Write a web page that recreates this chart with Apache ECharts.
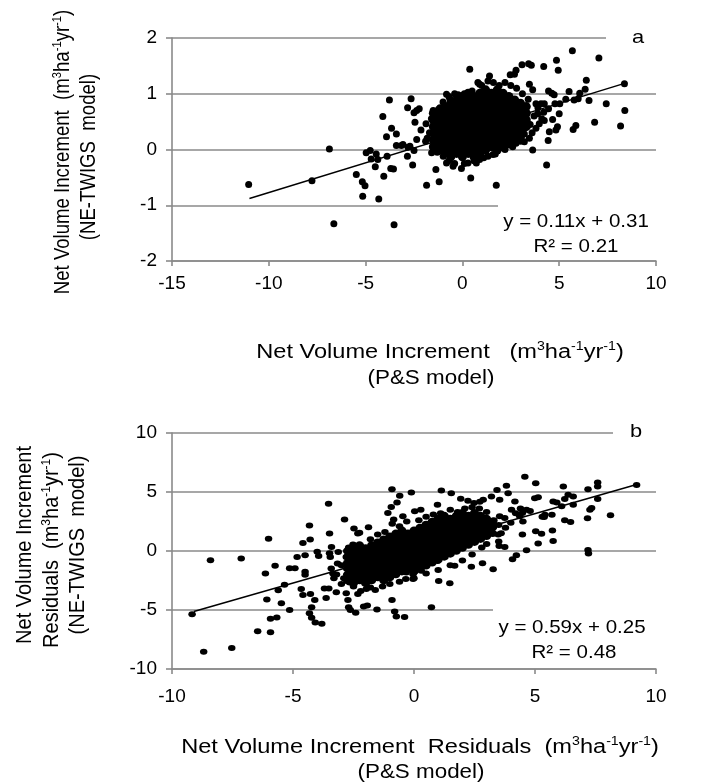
<!DOCTYPE html>
<html><head><meta charset="utf-8">
<script src="https://cdn.jsdelivr.net/npm/echarts@6/dist/echarts.min.js"></script>
<style>html,body{margin:0;padding:0;background:#fff}#c{width:727px;height:784px}</style>
</head><body><div id="c"></div>
<script>
// ---------- Panel a data ----------
const aXTicks = [-15, -10, -5, 0, 5, 10];
const aYTicks = [-2, -1, 0, 1, 2];
const aOutliers = [
 [-11.04,-0.63],[-7.77,-0.56],[-6.87,0.01],[-6.64,-1.33],[-3.53,-1.35],[-3.77,0.89],[-4.11,0.59],[-3.66,0.38],
 [-3.92,0.23],[-3.41,0.28],[-3.89,-0.12],[-4.06,-0.48],[-4.32,-0.89],[-5.15,-0.84],[-5.03,-0.65],[-5.17,-0.58],
 [-5.48,-0.45],[-4.97,-0.06],[-4.76,-0.02],[-4.71,-0.17],[-4.45,-0.08],[-4.37,-0.18],[-4.50,-0.31],[-3.70,-0.34],
 [-3.56,-0.35],[-3.41,0.07],[-3.15,0.07],[-3.07,0.09],[-2.81,0.04],[-2.71,0.06],[-2.84,-0.12],[-2.57,-0.28],
 [-2.65,0.91],[-2.83,0.75],[-2.50,0.66],[-2.36,0.70],[-2.23,0.73],[-2.45,0.49],[-2.50,-0.02],[-2.36,0.18],
 [-2.14,0.35],[-1.88,0.46],[-1.82,0.20],[-1.85,-0.64],[-1.37,-0.36],[-1.20,-0.58],[-1.59,-0.06],[-1.51,0.04],
 [-1.51,0.70],[-1.37,0.64],[-1.16,0.75],[-0.99,-0.12],[-0.82,-0.24],[-0.48,-0.30],[-0.05,-0.34],[0.43,-0.51],
 [0.38,1.44],[1.75,-0.64],[4.35,-0.28],[3.63,-0.01],[3.46,0.20],[3.20,0.14],[3.80,0.38],[3.97,0.46],
 [4.23,0.52],[4.49,0.32],[4.43,0.16],[4.83,0.35],[4.91,0.41],[4.66,0.54],[5.00,0.64],[5.03,0.82],
 [4.78,0.82],[4.45,0.73],[4.06,0.82],[3.80,0.82],[3.63,1.07],[3.46,1.17],[3.42,1.54],[3.56,1.51],
 [3.08,1.52],[2.77,1.42],[2.69,1.35],[2.47,1.34],[4.20,1.49],[4.86,1.60],[4.95,1.42],[5.68,1.77],
 [7.05,1.64],[5.98,0.91],[5.77,0.89],[5.51,1.04],[5.34,0.90],[5.72,0.36],[5.86,0.43],[6.40,1.24],
 [6.34,1.08],[6.06,1.01],[6.54,0.88],[6.83,0.49],[7.43,0.82],[8.17,0.42],[8.39,0.70],[8.37,1.18],
 [4.45,1.05],[4.62,1.01],[4.74,0.98],[4.23,0.82],[3.89,0.64],[4.20,0.67],[3.29,0.52],[3.12,0.35],
 [2.94,0.29],[2.77,0.11],[2.43,0.08],[1.92,0.05],[1.58,-0.09],[1.32,-0.12],[0.89,-0.18],[0.72,-0.24],
 [0.29,-0.24],[1.40,1.32],[1.32,1.23],[0.89,1.17],[0.80,1.20],[-0.82,0.99],[-0.22,0.98],[-0.65,0.91],
 [-1.6,0.55],[-1.4,0.68],[-1.7,0.3],[-1.9,0.15],[-1.3,-0.05],[-0.7,-0.2],[-0.4,-0.25],[0.1,-0.25],
 [0.6,-0.2],[1.1,-0.15],[1.7,-0.08],[2.2,0.0],[2.6,0.05],[3.0,0.15],[3.2,0.28],[3.5,0.45],
 [3.4,0.9],[3.1,1.0],[2.8,1.1],[2.5,1.15],[2.2,1.2],[1.9,1.15],[1.6,1.2],[1.0,1.15],
 [0.5,1.05],[0.1,1.0],[-0.4,1.0],[-0.7,0.95],[-1.0,0.85],[3.7,0.6],[3.9,0.75],[4.1,0.55],[3.6,0.3]
];
// dense cluster: [x, [y values]] columns
const aCoreCols = [
 [-1.5, [0.05,0.17,0.29,0.41,0.53,0.65]],
 [-1.2, [-0.01,0.11,0.23,0.35,0.47,0.59,0.71]],
 [-0.9, [-0.07,0.05,0.17,0.29,0.41,0.53,0.65,0.77]],
 [-0.6, [-0.13,-0.01,0.11,0.23,0.35,0.47,0.59,0.71,0.83]],
 [-0.3, [-0.07,0.05,0.17,0.29,0.41,0.53,0.65,0.77,0.89]],
 [0.0,  [-0.13,-0.01,0.11,0.23,0.35,0.47,0.59,0.71,0.83,0.95]],
 [0.3,  [-0.07,0.05,0.17,0.29,0.41,0.53,0.65,0.77,0.89,1.01]],
 [0.6,  [-0.13,-0.01,0.11,0.23,0.35,0.47,0.59,0.71,0.83,0.95]],
 [0.9,  [-0.07,0.05,0.17,0.29,0.41,0.53,0.65,0.77,0.89,1.01]],
 [1.2,  [-0.01,0.11,0.23,0.35,0.47,0.59,0.71,0.83,0.95,1.07]],
 [1.5,  [0.05,0.17,0.29,0.41,0.53,0.65,0.77,0.89,1.01]],
 [1.8,  [-0.01,0.11,0.23,0.35,0.47,0.59,0.71,0.83,0.95,1.07]],
 [2.1,  [0.05,0.17,0.29,0.41,0.53,0.65,0.77,0.89,1.01]],
 [2.4,  [0.11,0.23,0.35,0.47,0.59,0.71,0.83,0.95]],
 [2.7,  [0.17,0.29,0.41,0.53,0.65,0.77,0.89]],
 [3.0,  [0.23,0.35,0.47,0.59,0.71,0.83]],
 [3.3,  [0.41,0.53,0.65,0.77]]
];
const aTrend = [[-11.0, -0.88], [8.5, 1.2]];

// ---------- Panel b data ----------
const bXTicks = [-10, -5, 0, 5, 10];
const bYTicks = [-10, -5, 0, 5, 10];
const bOutliers = [
 [-9.17,-5.35],[-8.69,-8.54],[-8.41,-0.78],[-7.53,-8.21],[-7.14,-0.64],[-6.46,-6.81],[-5.93,-6.89],[-6.01,1.04],
 [-6.14,-1.9],[-6.08,-4.12],[-5.93,-5.74],[-5.67,-5.63],[-5.74,-1.26],[-5.61,-3.33],[-5.48,-4.43],[-5.35,-2.86],
 [-5.14,-4.99],[-5.14,-1.46],[-4.92,-1.46],[-4.83,-0.50],[-4.59,0.67],[-4.50,-0.36],[-4.50,-1.76],[-4.50,-2.02],
 [-4.66,-3.22],[-4.59,-3.73],[-4.32,2.16],[-4.29,0.98],[-4.28,-3.64],[-4.23,-4.76],[-4.32,-5.27],[-4.23,-5.66],
 [-4.10,-4.15],[-4.08,-6.05],[-4.00,-0.06],[-3.94,-0.42],[-3.81,-6.16],[-3.53,4.0],[-3.49,1.48],[-3.41,0.34],
 [-3.49,-0.2],[-3.46,-0.5],[-3.70,-3.17],[-3.63,-3.98],[-3.52,-3.17],[-3.42,-1.48],[-3.35,-1.9],[-3.31,-2.30],
 [-3.21,-3.50],[-3.16,-1.06],[-3.13,-0.08],[-2.87,2.66],[-2.80,-3.59],[-2.72,-2.10],[-2.66,-2.66],[-2.73,-4.15],
 [-2.70,-4.76],[-2.63,-4.99],[-2.41,-5.24],[-2.32,-3.64],[-2.52,0.56],[-2.48,1.90],[-2.32,1.48],[-2.25,1.54],
 [-2.08,-4.71],[-1.97,-3.22],[-1.88,2.02],[-1.93,-4.62],[-1.53,-4.96],[-0.91,5.24],[-0.91,-4.15],[-0.80,-5.13],
 [-0.73,-5.55],[-0.39,-5.60],[-0.11,4.96],[-0.59,4.68],[-0.70,4.12],[-0.94,3.72],[-1.08,3.22],[-0.84,2.66],
 [-0.46,2.94],[0.03,3.36],[0.28,3.50],[0.97,3.92],[1.13,5.13],[1.54,4.90],[1.93,4.43],[2.23,4.26],
 [2.48,4.06],[2.72,4.17],[2.86,4.34],[3.20,4.62],[3.43,5.18],[3.54,4.34],[3.82,5.52],[3.89,4.90],
 [3.78,1.96],[3.52,0.42],[3.75,0.34],[4.07,-0.70],[4.23,-0.36],[4.58,6.30],[5.03,5.74],[4.99,4.48],
 [5.13,4.56],[4.65,3.50],[4.48,1.40],[4.65,0.06],[5.03,1.68],[5.27,1.46],[5.13,0.64],[5.75,0.84],
 [5.72,1.74],[5.38,2.89],[5.70,3.08],[5.75,4.20],[6.17,5.46],[6.23,4.40],[6.37,4.76],[6.58,4.62],
 [6.58,3.92],[6.23,2.61],[6.47,2.46],[7.19,5.24],[7.59,5.80],[7.59,5.46],[7.59,4.40],[7.34,3.64],
 [7.27,3.50],[7.17,2.77],[7.19,0.08],[7.21,-0.22],[8.12,3.03],[9.20,5.60],[5.41,3.08],[4.48,3.22],
 [4.37,2.94],[4.17,4.20],[4.03,3.50],[3.75,2.80],[3.54,2.94],[3.48,1.40],[3.27,-1.54],[2.83,-1.04],
 [2.37,-1.34],[1.48,-2.74],[1.02,-2.55],[0.72,-4.76],[1.68,-1.26],[-0.04,-1.96],[-0.32,-1.82],[-0.34,-2.38],
 [-0.04,-2.38],[0.30,-1.68],[0.44,-0.70],[0.97,-0.84],[1.34,-0.28],
 [-3.0,-1.2],[-2.9,-2.3],[-2.8,-0.5],[-3.2,-2.0],[-2.7,0.3],[-2.5,-3.0],[-3.0,-2.8],[-1.8,1.0],
 [-1.5,1.4],[-1.2,1.6],[-0.9,2.3],[-0.6,2.1],[-0.3,2.5],[0.2,2.6],[0.5,2.9],[0.8,3.1],
 [1.1,3.2],[1.5,3.5],[1.8,3.3],[2.1,3.6],[2.4,3.7],[2.7,3.6],[3.0,3.3],[3.3,2.6],
 [3.5,2.2],[3.6,1.5],[2.4,-0.3],[2.0,-0.8],[1.5,-1.2],[1.0,-1.6],[0.5,-1.9],[0.0,-2.3],
 [-0.6,-2.6],[-1.0,-2.8],[-1.3,-3.0],[-1.8,-3.1],[-2.2,-3.4],[-1.6,-3.3],[3.5,0.8],[3.0,0.6],
 [2.8,0.3],[4.2,3.2],[4.5,2.5],[4.0,2.4],[4.4,3.6],[4.8,3.4],[5.3,2.9],[5.9,4.1],[6.1,3.8]
];
const bCoreCols = [
 [-2.75, [-2.5,-2.0,-1.5,-1.0,-0.5,0.0]],
 [-2.5,  [-2.75,-2.25,-1.75,-1.25,-0.75,-0.25,0.25]],
 [-2.25, [-2.5,-2.0,-1.5,-1.0,-0.5,0.0,0.5]],
 [-2.0,  [-2.75,-2.25,-1.75,-1.25,-0.75,-0.25,0.25]],
 [-1.75, [-2.5,-2.0,-1.5,-1.0,-0.5,0.0,0.5]],
 [-1.5,  [-2.25,-1.75,-1.25,-0.75,-0.25,0.25,0.75]],
 [-1.25, [-2.5,-2.0,-1.5,-1.0,-0.5,0.0,0.5,1.0]],
 [-1.0,  [-2.25,-1.75,-1.25,-0.75,-0.25,0.25,0.75,1.25]],
 [-0.75, [-2.0,-1.5,-1.0,-0.5,0.0,0.5,1.0,1.5]],
 [-0.5,  [-1.75,-1.25,-0.75,-0.25,0.25,0.75,1.25,1.75]],
 [-0.25, [-1.5,-1.0,-0.5,0.0,0.5,1.0,1.5]],
 [0.0,   [-1.75,-1.25,-0.75,-0.25,0.25,0.75,1.25,1.75]],
 [0.25,  [-1.5,-1.0,-0.5,0.0,0.5,1.0,1.5,2.0]],
 [0.5,   [-1.25,-0.75,-0.25,0.25,0.75,1.25,1.75,2.25]],
 [0.75,  [-1.0,-0.5,0.0,0.5,1.0,1.5,2.0,2.5]],
 [1.0,   [-0.75,-0.25,0.25,0.75,1.25,1.75,2.25,2.75]],
 [1.25,  [-0.5,0.0,0.5,1.0,1.5,2.0,2.5,3.0]],
 [1.5,   [-0.25,0.25,0.75,1.25,1.75,2.25,2.75]],
 [1.75,  [0.0,0.5,1.0,1.5,2.0,2.5,3.0]],
 [2.0,   [0.25,0.75,1.25,1.75,2.25,2.75,3.25]],
 [2.25,  [0.5,1.0,1.5,2.0,2.5,3.0]],
 [2.5,   [0.75,1.25,1.75,2.25,2.75,3.25]],
 [2.75,  [1.0,1.5,2.0,2.5,3.0]],
 [3.0,   [1.25,1.75,2.25,2.75]],
 [3.25,  [1.5,2.0,2.5]]
];
const bTrend = [[-9.1, -5.12], [9.2, 5.63]];

// ---------- helpers ----------
const flatCols = (cols) => cols.flatMap(([x, ys]) => ys.map((y) => [x, y]));
const FONT = "'Liberation Sans', Arial, sans-serif";
const unitRich = '{n|(m}{s|3}{n|ha}{s|-1}{n|yr}{s|-1}{n|)}';
const richStyle = (fs) => ({
  n: {fontSize: fs, fontFamily: FONT, fill: '#000', lineHeight: fs + 2},
  s: {fontSize: Math.round(fs * 0.62), fontFamily: FONT, fill: '#000', verticalAlign: 'top', lineHeight: fs + 2}
});

const chart = echarts.init(document.getElementById('c'), null, {renderer: 'canvas'});
const gray = '#8a8a8a';
const TICKFS = 19;

function xAxisCfg(gi, ticks, margin) {
  return {
    gridIndex: gi, type: 'value', min: ticks[0], max: ticks[ticks.length - 1], interval: ticks[1] - ticks[0],
    axisLine: {show: true, onZero: false, lineStyle: {color: gray, width: 1.6}},
    axisTick: {show: true, length: 5, lineStyle: {color: gray, width: 1.6}},
    splitLine: {show: false},
    axisLabel: {fontSize: TICKFS, color: '#000', fontFamily: FONT, margin: margin}
  };
}
function yAxisCfg(gi, ticks) {
  return {
    gridIndex: gi, type: 'value', min: ticks[0], max: ticks[ticks.length - 1], interval: ticks[1] - ticks[0],
    axisLine: {show: true, onZero: false, lineStyle: {color: gray, width: 1.6}},
    axisTick: {show: true, length: 6, lineStyle: {color: gray, width: 1.6}},
    splitLine: {show: true, lineStyle: {color: gray, width: 1.6}},
    axisLabel: {fontSize: TICKFS, color: '#000', fontFamily: FONT, margin: 15}
  };
}
function txt(x, y, text, fs, opts) {
  opts = opts || {};
  const o = {type: 'text', x: x, y: y, z: 100,
    style: {text: text, fill: '#000', fontSize: fs, fontFamily: FONT, align: 'center', verticalAlign: 'middle'}};
  if (opts.rich) o.style.rich = richStyle(fs);
  if (opts.rot) o.rotation = opts.rot;
  if (opts.sx) o.scaleX = opts.sx;
  if (opts.sy) o.scaleY = opts.sy;
  return o;
}
function box(x, y, w, h) {
  return {type: 'rect', z: 90, shape: {x: x, y: y, width: w, height: h}, style: {fill: '#fff'}};
}
const dot = {color: '#000', opacity: 1, borderWidth: 0};

const option = {
  animation: false,
  backgroundColor: '#fff',
  grid: [
    {left: 172, right: 71, top: 38, height: 223},
    {left: 172, right: 71, top: 433, height: 236}
  ],
  xAxis: [xAxisCfg(0, aXTicks, 13), xAxisCfg(1, bXTicks, 18)],
  yAxis: [yAxisCfg(0, aYTicks), yAxisCfg(1, bYTicks)],
  series: [
    {type: 'scatter', xAxisIndex: 0, yAxisIndex: 0, data: flatCols(aCoreCols), symbolSize: 9, itemStyle: dot, emphasis: {disabled: true}},
    {type: 'scatter', xAxisIndex: 0, yAxisIndex: 0, data: aOutliers, symbolSize: 7, itemStyle: dot, emphasis: {disabled: true}},
    {type: 'line', xAxisIndex: 0, yAxisIndex: 0, data: aTrend, showSymbol: false, lineStyle: {color: '#000', width: 1.5}},
    {type: 'scatter', xAxisIndex: 1, yAxisIndex: 1, data: flatCols(bCoreCols), symbolSize: [9, 7.5], itemStyle: dot, emphasis: {disabled: true}},
    {type: 'scatter', xAxisIndex: 1, yAxisIndex: 1, data: bOutliers, symbolSize: [7.5, 6], itemStyle: dot, emphasis: {disabled: true}},
    {type: 'line', xAxisIndex: 1, yAxisIndex: 1, data: bTrend, showSymbol: false, lineStyle: {color: '#000', width: 1.5}}
  ],
  graphic: [
    box(606, 30, 52, 18), txt(638, 38, 'a', 19, {sx: 1.15}),
    box(498, 199, 160, 58),
    txt(576, 222, 'y = 0.11x + 0.31', 19, {sx: 1.08}), txt(576, 247, 'R² = 0.21', 19, {sx: 1.08}),
    box(613, 425, 45, 16), txt(636, 432, 'b', 19, {sx: 1.15}),
    box(493, 604, 165, 62),
    txt(572, 628, 'y = 0.59x + 0.25', 19, {sx: 1.08}), txt(574, 653, 'R² = 0.48', 19, {sx: 1.08}),
    // axis titles panel a
    txt(440, 352, '{n|Net Volume Increment   }' + unitRich, 20, {rich: true, sx: 1.18}),
    txt(431, 378, '(P&S model)', 20, {sx: 1.12}),
    txt(63, 152, '{n|Net Volume Increment  }' + unitRich, 20, {rich: true, rot: Math.PI / 2, sx: 0.93, sy: 1.1}),
    txt(89, 157, '(NE-TWIGS  model)', 20, {rot: Math.PI / 2, sx: 0.93, sy: 1.1}),
    // axis titles panel b
    txt(420, 747, '{n|Net Volume Increment  Residuals  }' + unitRich, 20, {rich: true, sx: 1.18}),
    txt(421, 772, '(P&S model)', 20, {sx: 1.12}),
    txt(25, 545, 'Net Volume Increment', 20, {rot: Math.PI / 2, sy: 1.1}),
    txt(52, 550, '{n|Residuals  }' + unitRich, 20, {rich: true, rot: Math.PI / 2, sy: 1.1}),
    txt(78, 545, '(NE-TWIGS  model)', 20, {rot: Math.PI / 2, sy: 1.1})
  ]
};
chart.setOption(option);
</script></body></html>
